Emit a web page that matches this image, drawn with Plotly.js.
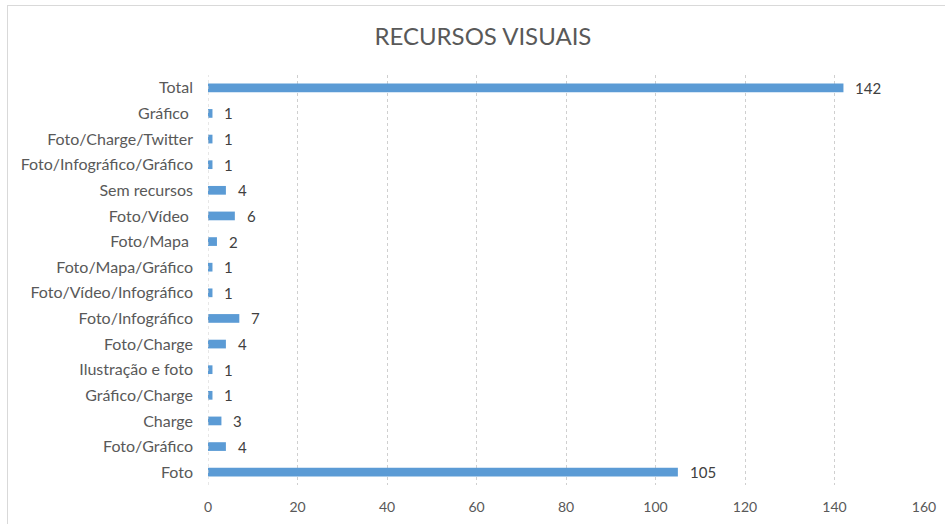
<!DOCTYPE html>
<html>
<head>
<meta charset="utf-8">
<script src="https://cdn.plot.ly/plotly-3.0.1.min.js"></script>
<style>
  html, body { margin: 0; padding: 0; background: #fff; }
  #wrap { position: relative; width: 945px; height: 524px; overflow: hidden; }
  #frame { position: absolute; left: 7px; top: 5px; width: 960px; height: 540px;
           border-top: 1px solid #d9d9d9; border-left: 1px solid #d9d9d9; pointer-events: none; }
  #chart { position: absolute; left: 0; top: 0; width: 945px; height: 524px; }
</style>
</head>
<body>
<div id="wrap">
  <div id="chart"></div>
  <div id="frame"></div>
</div>
<script>
// Categories listed bottom-to-top (Plotly draws the first category at the bottom)
const categories = [
  "Foto", "Foto/Gráfico", "Charge", "Gráfico/Charge", "Ilustração e foto",
  "Foto/Charge", "Foto/Infográfico", "Foto/Vídeo/Infográfico", "Foto/Mapa/Gráfico",
  "Foto/Mapa\u00a0", "Foto/Vídeo\u00a0", "Sem recursos", "Foto/Infográfico/Gráfico",
  "Foto/Charge/Twitter", "Gráfico\u00a0", "Total"
];
const counts = [105, 4, 3, 1, 1, 4, 7, 1, 1, 2, 6, 4, 1, 1, 1, 142];
const xTicks = [0, 20, 40, 60, 80, 100, 120, 140, 160];

const fontFamily = "Lato, 'Open Sans', sans-serif";
const valueFont = { family: fontFamily, size: 15, color: "#404040" };

const trace = {
  type: "bar",
  orientation: "h",
  x: counts,
  y: categories,
  marker: { color: "#5B9BD5" },
  width: 0.34,
  hoverinfo: "x+y"
};

// Value labels placed just to the right of each bar end
const valueLabels = counts.map((v, i) => ({
  x: v, y: categories[i], xref: "x", yref: "y",
  text: String(v), showarrow: false,
  xanchor: "left", yanchor: "middle", xshift: 10,
  font: valueFont
}));

const layout = {
  width: 945, height: 524,
  margin: { l: 207.5, r: 21, t: 75, b: 39 },
  paper_bgcolor: "rgba(0,0,0,0)",
  plot_bgcolor: "#fff",
  title: {
    text: "RECURSOS VISUAIS",
    font: { family: fontFamily, size: 24, color: "#595959" },
    x: 0.511, xanchor: "center", y: 0.93, yanchor: "middle"
  },
  xaxis: {
    range: [0, 160],
    tickvals: xTicks,
    ticktext: xTicks.map(String),
    showgrid: true, gridcolor: "#cfcfcf", griddash: "dot", gridwidth: 1,
    zeroline: false, showline: false, ticks: "",
    ticklabelstandoff: 12,
    tickfont: { family: fontFamily, size: 14, color: "#595959" },
    fixedrange: true
  },
  yaxis: {
    type: "category",
    categoryorder: "array", categoryarray: categories,
    showgrid: false, zeroline: false, showline: false, ticks: "",
    ticklabelstandoff: 14,
    tickfont: { family: fontFamily, size: 16, color: "#595959" },
    fixedrange: true
  },
  shapes: [{
    type: "line", xref: "x", yref: "paper", x0: 0, x1: 0, y0: 0, y1: 1,
    line: { color: "#cfcfcf", width: 1, dash: "dot" }
  }],
  annotations: valueLabels,
  showlegend: false,
  bargap: 0.66
};

Plotly.newPlot("chart", [trace], layout, { displayModeBar: false, staticPlot: true });
</script>
</body>
</html>
